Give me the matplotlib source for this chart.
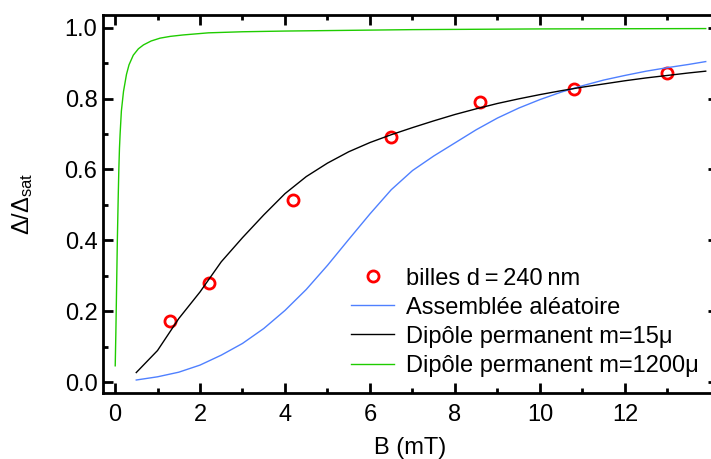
import numpy as np
import matplotlib
matplotlib.use("Agg")
import matplotlib.pyplot as plt
from matplotlib.ticker import MultipleLocator, FixedLocator

plt.rcParams['font.family'] = ['Liberation Sans', 'DejaVu Sans']
plt.rcParams['mathtext.fontset'] = 'custom'
plt.rcParams['mathtext.rm'] = 'Liberation Sans'
plt.rcParams['mathtext.it'] = 'Liberation Sans:italic'

# measured points (billes d = 240 nm)
b_meas = [1.3, 2.2, 4.2, 6.5, 8.6, 10.8, 13.0]
r_meas = [0.174, 0.281, 0.514, 0.692, 0.791, 0.827, 0.873]

# random assembly curve
b_rand = [0.5, 1.0, 1.5, 2.0, 2.5, 3.0, 3.5, 4.0, 4.5, 5.0, 5.5, 6.0, 6.5, 7.0,
          7.5, 8.0, 8.5, 9.0, 9.5, 10.0, 10.5, 11.0, 11.5, 12.0, 12.5, 13.0, 13.5, 13.9]
r_rand = [0.007, 0.016, 0.029, 0.049, 0.077, 0.110, 0.152, 0.203, 0.262, 0.330,
          0.403, 0.475, 0.543, 0.597, 0.638, 0.675, 0.712, 0.745, 0.773, 0.797,
          0.818, 0.836, 0.852, 0.865, 0.877, 0.887, 0.896, 0.904]

# permanent dipole m = 15 mu
b_d15 = [0.5, 1.0, 1.5, 2.0, 2.5, 3.0, 3.5, 4.0, 4.5, 5.0, 5.5, 6.0, 6.5, 7.0,
         7.5, 8.0, 8.5, 9.0, 9.5, 10.0, 10.5, 11.0, 11.5, 12.0, 12.5, 13.0, 13.5, 13.9]
r_d15 = [0.028, 0.090, 0.180, 0.255, 0.340, 0.408, 0.472, 0.532, 0.580, 0.618,
         0.650, 0.676, 0.698, 0.718, 0.737, 0.755, 0.771, 0.786, 0.799, 0.811,
         0.822, 0.832, 0.841, 0.850, 0.858, 0.865, 0.872, 0.877]

# permanent dipole m = 1200 mu
b_d1200 = [0.005, 0.02, 0.035, 0.055, 0.075, 0.09, 0.105, 0.12, 0.15, 0.2,
           0.27, 0.33, 0.43, 0.55, 0.67, 0.85, 1.06, 1.3, 1.6, 2.2, 3.0, 4.0,
           5.5, 7.0, 10.0, 13.9]
r_d1200 = [0.047, 0.14, 0.25, 0.4, 0.52, 0.6, 0.66, 0.70, 0.765, 0.82,
           0.868, 0.895, 0.922, 0.940, 0.951, 0.962, 0.970, 0.975, 0.979, 0.985,
           0.988, 0.990, 0.992, 0.994, 0.996, 0.997]

fig = plt.figure(figsize=(7.11, 4.59), dpi=100)
ax = fig.add_axes([0.1449, 0.1438, 0.865, 0.8235])

ax.plot(b_meas, r_meas, 'o', ms=8, mfc='none', mec='#ff0000', mew=2,
        label='billes d\u2009=\u2009240\u2009nm')
ax.plot(b_rand, r_rand, color='#4f80ff', lw=1, label='Assemblée aléatoire')
ax.plot(b_d15, r_d15, color='black', lw=1, label='Dipôle permanent m=15μ')
ax.plot(b_d1200, r_d1200, color='#1fcc00', lw=1, label='Dipôle permanent m=1200μ')

ax.set_xlim(-0.282, 14.19)
ax.set_ylim(-0.0296, 1.0352)
ax.xaxis.set_major_locator(FixedLocator([0, 2, 4, 6, 8, 10, 12]))
ax.xaxis.set_minor_locator(FixedLocator([1, 3, 5, 7, 9, 11, 13]))
ax.yaxis.set_major_locator(MultipleLocator(0.2))
ax.yaxis.set_minor_locator(MultipleLocator(0.1))
ax.yaxis.set_major_formatter(matplotlib.ticker.FormatStrFormatter('%.1f'))

for s in ax.spines.values():
    s.set_linewidth(2)
ax.tick_params(which='both', direction='in', top=True, right=True, width=2,
               labelsize=17)
ax.tick_params(which='major', length=7.2)
ax.tick_params(which='minor', length=3.6)
ax.tick_params(axis='x', pad=8)
ax.tick_params(axis='y', pad=4)

ax.set_xlabel('B (mT)', fontsize=17)
ax.set_ylabel('Δ/Δ$_{\\rm sat}$', fontsize=17)
ax.xaxis.set_label_coords(0.5, -0.117)
ax.yaxis.set_label_coords(-0.11, 0.5)

ax.legend(loc='center left', bbox_to_anchor=(0.481, 0.298),
          bbox_transform=fig.transFigure, frameon=False, fontsize=17,
          handlelength=1.8, handletextpad=0.5, labelspacing=0.3,
          borderaxespad=0, borderpad=0.4)

fig.savefig('out.png', dpi=100)
